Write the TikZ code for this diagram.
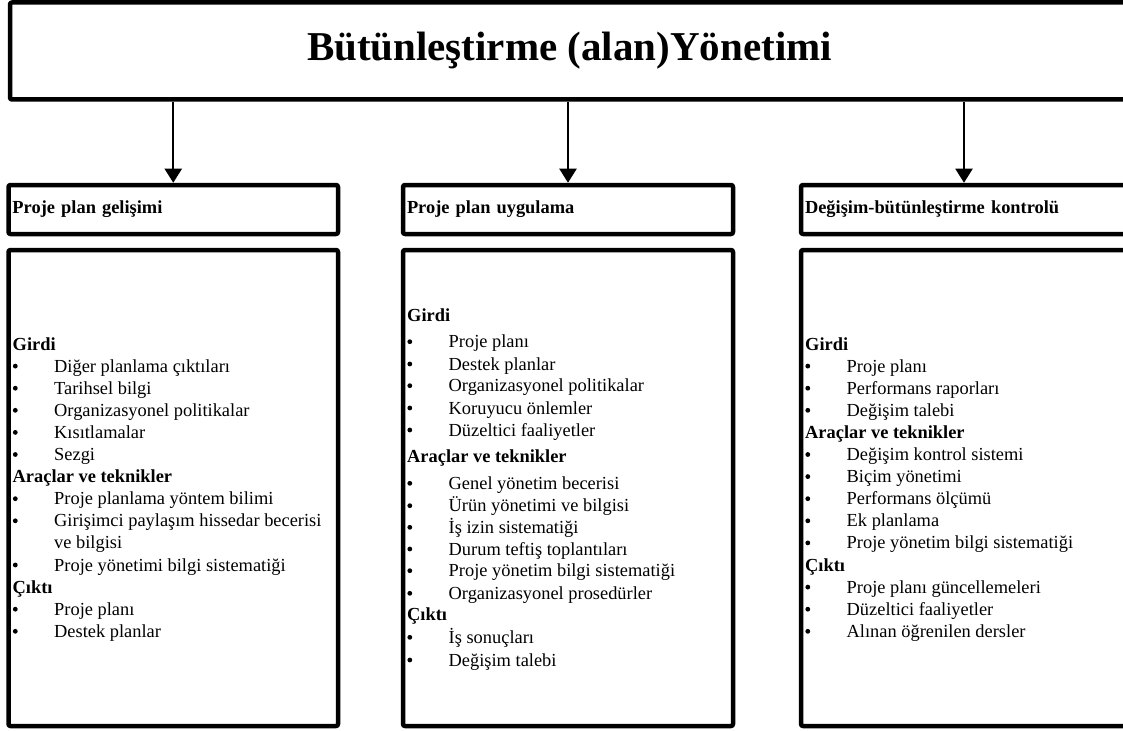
\documentclass[tikz,border=0pt]{standalone}
\usepackage{fontspec}
\setmainfont{Liberation Serif}
\usetikzlibrary{arrows.meta}

% one column of list lines: prefix, horizontal shift, list of y/kind/text
% kind h = bold heading, b = bulleted item, c = continuation line
\newcommand\colitems[3]{%
  \begin{scope}[xshift=#2]
    \foreach \y/\k/\t [count=\i] in {#3} {
      \if\k h\node[headln] (#1-\i) at (4,\y) {\t};\fi
      \if\k b\node[bulletmk] (#1-\i-m) at (6.8,\y-6) {};
             \node[itemln] (#1-\i) at (45.5,\y) {\t};\fi
      \if\k c\node[itemln] (#1-\i) at (45.5,\y) {\t};\fi
    }
  \end{scope}}

\begin{document}
\begin{tikzpicture}[x=1pt,y=-1pt,
  frame/.style={draw, line width=4.5pt, rounded corners=2pt, line join=round,
                inner sep=0pt, outer sep=0pt, anchor=north west},
  hdrbox/.style={frame, minimum width=#1, minimum height=49pt, inner xsep=4pt,
                 text width=#1-8pt, align=left,
                 font=\fontsize{18.4}{22}\selectfont\bfseries},
  listbox/.style={frame, minimum width=#1, minimum height=476pt},
  headln/.style={anchor=base west, inner sep=0pt,
                 font=\fontsize{18.4}{22}\selectfont\bfseries},
  itemln/.style={anchor=base west, inner sep=0pt,
                 font=\fontsize{18.4}{22}\selectfont},
  bulletmk/.style={circle, fill, draw=none, inner sep=0pt, minimum size=4.8pt},
  conn/.style={line width=2pt, -{Triangle[width=17pt,length=14pt]},
               shorten >=2.25pt, shorten <=2.25pt}
]
\useasboundingbox (0,0) rectangle (1123,730);
\fill[white] (0,0) rectangle (1123,730);
\clip (0,0) rectangle (1123,730);

% title bar
\node[frame, minimum width=1119pt, minimum height=97pt,
      font=\fontsize{41}{48}\selectfont\bfseries] (title) at (10,2.5)
      {Bütünleştirme (alan)Yönetimi};

% process headers
\node[hdrbox=329.5pt] (h1) at (8.5,185) {Proje plan gelişimi};
\node[hdrbox=330pt]   (h2) at (403,185) {Proje plan uygulama};
\node[hdrbox=326pt]   (h3) at (801,185) {Değişim-bütünleştirme kontrolü};

% list frames
\node[listbox=329.5pt] (b1) at (8.5,250) {};
\node[listbox=330pt]   (b2) at (403,250) {};
\node[listbox=326pt]   (b3) at (801,250) {};

% connectors
\draw[conn] (title.south -| h1.north) -- (h1.north);
\draw[conn] (title.south -| h2.north) -- (h2.north);
\draw[conn] (title.south -| h3.north) -- (h3.north);

% list contents
\colitems{pa}{8.5pt}{350/h/Girdi,
  372.1/b/Diğer planlama çıktıları,
  394.2/b/Tarihsel bilgi,
  416.3/b/Organizasyonel politikalar,
  438.4/b/Kısıtlamalar,
  460.5/b/Sezgi,
  482.6/h/Araçlar ve teknikler,
  504.7/b/Proje planlama yöntem bilimi,
  526.8/b/Girişimci paylaşım hissedar becerisi,
  548.9/c/ve bilgisi,
  571/b/Proje yönetimi bilgi sistematiği,
  593.1/h/Çıktı,
  615.2/b/Proje planı,
  637.3/b/Destek planlar}

\colitems{pb}{403pt}{321/h/Girdi,
  347.7/b/Proje planı,
  370/b/Destek planlar,
  391.7/b/Organizasyonel politikalar,
  414/b/Koruyucu önlemler,
  436/b/Düzeltici faaliyetler,
  462.7/h/Araçlar ve teknikler,
  489.3/b/Genel yönetim becerisi,
  511.7/b/Ürün yönetimi ve bilgisi,
  533.3/b/İş izin sistematiği,
  555/b/Durum teftiş toplantıları,
  576.7/b/Proje yönetim bilgi sistematiği,
  599.3/b/Organizasyonel prosedürler,
  620.7/h/Çıktı,
  643.3/b/İş sonuçları,
  666/b/Değişim talebi}

\colitems{pc}{801pt}{350/h/Girdi,
  372.1/b/Proje planı,
  394.2/b/Performans raporları,
  416.3/b/Değişim talebi,
  438.4/h/Araçlar ve teknikler,
  460.5/b/Değişim kontrol sistemi,
  482.6/b/Biçim yönetimi,
  504.7/b/Performans ölçümü,
  526.8/b/Ek planlama,
  548.9/b/Proje yönetim bilgi sistematiği,
  571/h/Çıktı,
  593.1/b/Proje planı güncellemeleri,
  615.2/b/Düzeltici faaliyetler,
  637.3/b/Alınan öğrenilen dersler}
\end{tikzpicture}
\end{document}
